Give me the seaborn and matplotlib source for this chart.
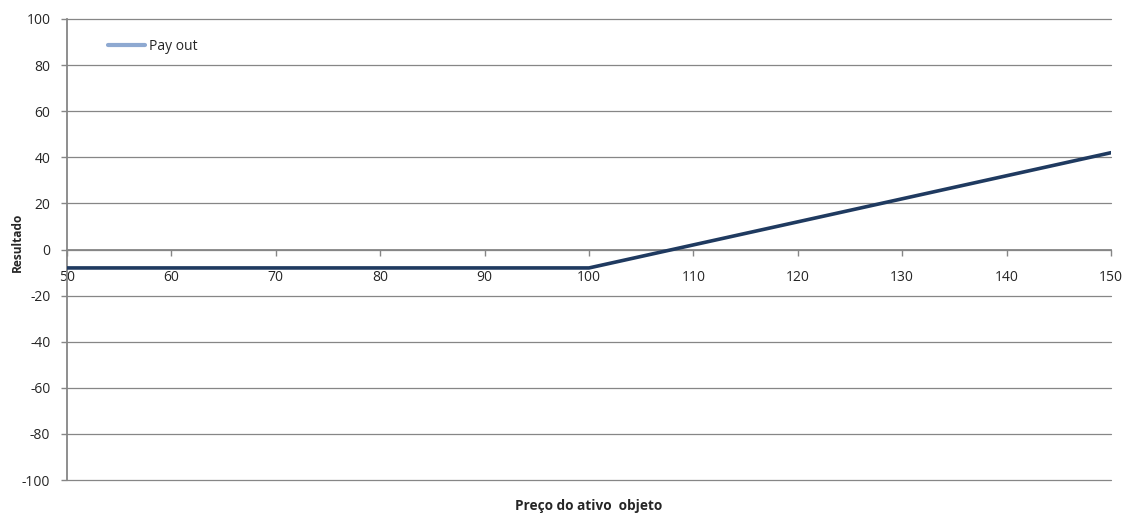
import matplotlib
matplotlib.use("Agg")
import matplotlib.pyplot as plt
from matplotlib.lines import Line2D
import seaborn as sns
import pandas as pd

# Call option payoff: strike 100, premium 8
prices = [50, 60, 70, 80, 90, 100, 110, 120, 130, 140, 150]
payout = [-8, -8, -8, -8, -8, -8, 2, 12, 22, 32, 42]
series_name = "Pay out"
x_label = "Preço do ativo  objeto"
y_label = "Resultado"
x_ticks = [50, 60, 70, 80, 90, 100, 110, 120, 130, 140, 150]
y_ticks = [-100, -80, -60, -40, -20, 0, 20, 40, 60, 80, 100]

sns.set_style("white")
plt.rcParams["font.family"] = ["Open Sans", "DejaVu Sans"]

df = pd.DataFrame({"preco": prices, "resultado": payout})

fig = plt.figure(figsize=(11.3, 5.14), dpi=100)
ax = fig.add_axes([67 / 1130, 1 - 480 / 514, (1111 - 67) / 1130, (480 - 19) / 514])

grid_color = "#868686"
line_color = "#1F3A60"

sns.lineplot(data=df, x="preco", y="resultado", ax=ax, color=line_color,
             linewidth=2.6, legend=False, zorder=3)

ax.set_xlim(50, 150)
ax.set_ylim(-100, 100)
ax.set_xticks(x_ticks)
ax.set_yticks(y_ticks)
ax.set_xticklabels([str(v) for v in x_ticks])
ax.set_yticklabels([str(v) for v in y_ticks])

for y in y_ticks:
    ax.axhline(y, color=grid_color, linewidth=0.9, zorder=1, clip_on=False)

ax.spines["top"].set_visible(False)
ax.spines["right"].set_visible(False)
ax.spines["left"].set_color(grid_color)
ax.spines["left"].set_linewidth(1.3)
ax.spines["bottom"].set_position(("data", 0))
ax.spines["bottom"].set_color(grid_color)
ax.spines["bottom"].set_linewidth(1.3)

ax.tick_params(axis="y", direction="out", length=4, width=1, color=grid_color,
               labelsize=10, pad=8, left=True)
ax.tick_params(axis="x", direction="out", length=4, width=1, color=grid_color,
               labelsize=10, pad=11, bottom=True)

ax.set_xlabel(x_label, fontsize=9.8, fontweight="bold", labelpad=0)
ax.xaxis.set_label_coords(0.5, -0.042)
ax.set_ylabel(y_label, fontsize=8.6, fontweight="bold")
ax.yaxis.set_label_coords(-0.041, 0.515)

handle = Line2D([0], [0], color="#8EA9D1", linewidth=3)
ax.legend([handle], [series_name], loc="center left",
          bbox_to_anchor=(0.039, (480 - 46) / 461),
          frameon=False, fontsize=10, handlelength=2.65, handletextpad=0.35,
          borderaxespad=0, borderpad=0)

fig.savefig("out.png", dpi=100)
